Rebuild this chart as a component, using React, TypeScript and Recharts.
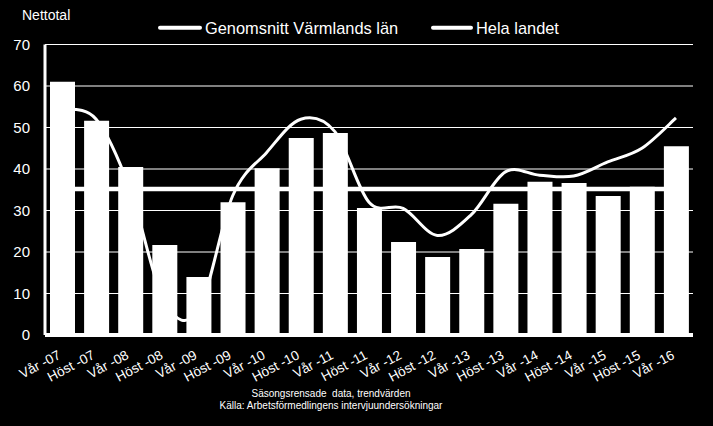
import React from 'react';
import { ComposedChart, Bar, Line, XAxis, YAxis, CartesianGrid, Legend } from 'recharts';

const categories = ['Vår -07', 'Höst -07', 'Vår -08', 'Höst -08', 'Vår -09', 'Höst -09', 'Vår -10', 'Höst -10', 'Vår -11', 'Höst -11', 'Vår -12', 'Höst -12', 'Vår -13', 'Höst -13', 'Vår -14', 'Höst -14', 'Vår -15', 'Höst -15', 'Vår -16'];
const varmlandValues = [61, 51.6, 40.5, 21.7, 14, 32, 40.2, 47.5, 48.7, 30.6, 22.4, 18.8, 20.7, 31.6, 36.9, 36.6, 33.5, 35.7, 45.5];
const genomsnittValues = [35.2, 35.2, 35.2, 35.2, 35.2, 35.2, 35.2, 35.2, 35.2, 35.2, 35.2, 35.2, 35.2, 35.2, 35.2, 35.2, 35.2, 35.2, 35.2];
const helaLandetValues = [54.5, 52, 35, 8, 6, 33.5, 44, 52, 49, 32, 30.5, 24, 29, 39.3, 38.5, 38.3, 41.7, 45, 52.3];
const yTicks = [0, 10, 20, 30, 40, 50, 60, 70];
const seriesNames = ['Värmland', 'Genomsnitt Värmlands län', 'Hela landet'];
const yAxisTitle = 'Nettotal';
const footerLines = ['Säsongsrensade  data, trendvärden', 'Källa: Arbetsförmedlingens intervjuundersökningar'];

const data = categories.map((c, i) => ({
  name: c,
  varmland: varmlandValues[i],
  genomsnitt: genomsnittValues[i],
  hela: helaLandetValues[i],
}));

const FONT = '"Liberation Sans", Arial, sans-serif';

// Excel-like smoothed line (Catmull-Rom through points)
const smoothCurve: any = (context: any) => {
  let pts: number[][] = [];
  return {
    areaStart() {},
    areaEnd() {},
    lineStart() {
      pts = [];
    },
    point(x: number, y: number) {
      pts.push([+x, +y]);
    },
    lineEnd() {
      if (!pts.length) return;
      context.moveTo(pts[0][0], pts[0][1]);
      for (let i = 0; i < pts.length - 1; i++) {
        const p0 = pts[i - 1] || pts[i];
        const p1 = pts[i];
        const p2 = pts[i + 1];
        const p3 = pts[i + 2] || p2;
        context.bezierCurveTo(
          p1[0] + (p2[0] - p0[0]) / 6,
          p1[1] + (p2[1] - p0[1]) / 6,
          p2[0] - (p3[0] - p1[0]) / 6,
          p2[1] - (p3[1] - p1[1]) / 6,
          p2[0],
          p2[1]
        );
      }
    },
  };
};

const XTick = (props: any) => {
  const { x, y, payload } = props;
  return (
    <g transform={`translate(${x - 0.5},${y + 23})`}>
      <text x={0} y={0} textAnchor="end" transform="rotate(-28)" fill="#fff" fontSize={13.5} fontFamily={FONT}>
        {payload.value}
      </text>
    </g>
  );
};

const legendPos = [
  { lx1: 160, lx2: 200, tx: 205 },
  { lx1: 433, lx2: 471, tx: 476 },
];

const renderLegend = (props: any) => {
  const payload = (props.payload || []).filter((p: any) => p.type !== 'none');
  return (
    <svg width={713} height={40} style={{ display: 'block' }}>
      {payload.map((p: any, i: number) => {
        const pos = legendPos[i] || legendPos[0];
        return (
          <g key={i}>
            <line x1={pos.lx1} x2={pos.lx2} y1={27.7} y2={27.7} stroke="#fff" strokeWidth={4} strokeLinecap="round" />
            <text x={pos.tx} y={34} fill="#fff" fontSize={16.4} fontFamily={FONT}>
              {p.value}
            </text>
          </g>
        );
      })}
    </svg>
  );
};

export default function App() {
  return (
    <div style={{ position: 'absolute', left: 0, top: 0, width: 713, height: 426, background: '#000', overflow: 'hidden' }}>
      <ComposedChart
        width={713}
        height={426}
        data={data}
        margin={{ top: 44.5, right: 20, bottom: 31, left: 0 }}
        style={{ fontFamily: FONT }}
      >
        <CartesianGrid horizontal vertical={false} stroke="#fff" strokeWidth={1} />
        <XAxis
          dataKey="name"
          height={60}
          interval={0}
          axisLine={{ stroke: '#fff', strokeWidth: 4 }}
          tickLine={false}
          tickSize={0}
          tickMargin={0}
          tick={<XTick />}
        />
        <YAxis
          width={45}
          domain={[0, 70]}
          ticks={yTicks}
          interval={0}
          axisLine={{ stroke: '#fff', strokeWidth: 3 }}
          tickLine={false}
          tickSize={6}
          tickMargin={9}
          tick={{ fill: '#fff', fontSize: 15, fontFamily: FONT }}
        />
        <Legend
          layout="horizontal"
          verticalAlign="middle"
          align="center"
          content={renderLegend}
          wrapperStyle={{ position: 'absolute', top: 0, left: 0, width: 713, height: 40 }}
        />
        <Bar dataKey="varmland" name={seriesNames[0]} fill="#fff" barSize={25} isAnimationActive={false} legendType="none" />
        <Line
          dataKey="genomsnitt"
          name={seriesNames[1]}
          type="linear"
          stroke="#fff"
          strokeWidth={4.5}
          dot={false}
          activeDot={false}
          isAnimationActive={false}
        />
        <Line
          dataKey="hela"
          name={seriesNames[2]}
          type={smoothCurve}
          stroke="#fff"
          strokeWidth={3}
          dot={false}
          activeDot={false}
          isAnimationActive={false}
        />
      </ComposedChart>
      <svg width={713} height={426} style={{ position: 'absolute', left: 0, top: 0, pointerEvents: 'none' }}>
        <text x={22} y={20} fill="#fff" fontSize={14} fontFamily={FONT}>
          {yAxisTitle}
        </text>
        <text x={331} y={397} fill="#fff" fontSize={10} fontFamily={FONT} textAnchor="middle" style={{ whiteSpace: 'pre' }}>
          {footerLines[0]}
        </text>
        <text x={331} y={408.5} fill="#fff" fontSize={10} fontFamily={FONT} textAnchor="middle">
          {footerLines[1]}
        </text>
      </svg>
    </div>
  );
}
